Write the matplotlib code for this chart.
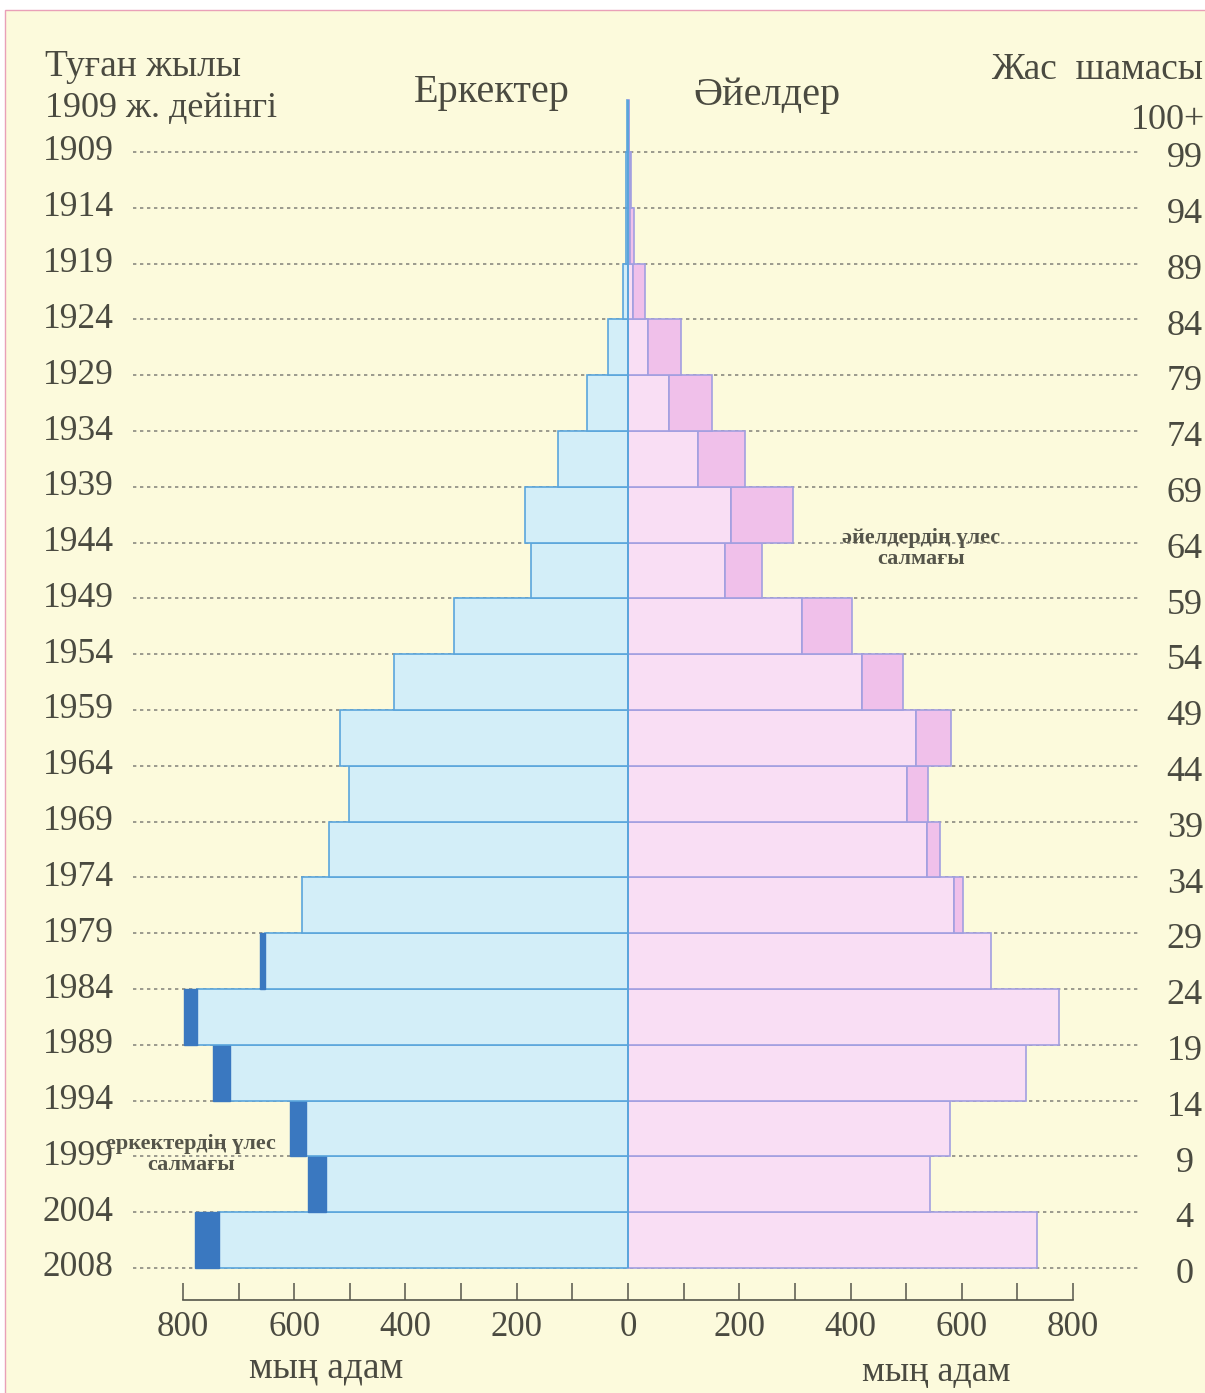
import matplotlib.pyplot as plt
from matplotlib.patches import Rectangle

# age groups from bottom (0-4) to top (100+), thousands of people
age_groups = ['0-4', '5-9', '10-14', '15-19', '20-24', '25-29', '30-34', '35-39',
              '40-44', '45-49', '50-54', '55-59', '60-64', '65-69', '70-74',
              '75-79', '80-84', '85-89', '90-94', '95-99', '100+']
male = [779, 576, 608, 746, 799, 662, 586, 538, 502, 518, 421,
        313, 175, 185, 126, 74, 36, 9, 3, 4, 1]
female = [736, 543, 579, 716, 775, 653, 602, 561, 540, 581, 495,
          403, 240, 297, 210, 151, 95, 30, 10, 6, 2]

# labels on the boundary lines, bottom to top
birth_years = ['2008', '2004', '1999', '1994', '1989', '1984', '1979', '1974',
               '1969', '1964', '1959', '1954', '1949', '1944', '1939', '1934',
               '1929', '1924', '1919', '1914', '1909']
ages = ['0', '4', '9', '14', '19', '24', '29', '34', '39', '44', '49', '54',
        '59', '64', '69', '74', '79', '84', '89', '94', '99']

x_ticks = [-800, -600, -400, -200, 0, 200, 400, 600, 800]
x_tick_labels = ['800', '600', '400', '200', '0', '200', '400', '600', '800']

plt.rcParams['font.family'] = ['Liberation Serif', 'DejaVu Serif']

bg = '#fcfadc'
text_col = '#4a4a40'
light_blue = '#d3eef8'
dark_blue = '#3a78c0'
blue_edge = '#5aa5dc'
light_pink = '#f9def4'
dark_pink = '#f0c0ea'
pink_edge = '#a29fe0'

fig = plt.figure(figsize=(12.05, 13.93), dpi=100)
fig.patch.set_facecolor('white')

ax = fig.add_axes([0, 0, 1, 1])
ax.patch.set_alpha(0)
# cream page with a thin pink frame
ax.add_patch(Rectangle((5 / 1205, -0.01), 1.0, 1.01 - 10 / 1393, transform=ax.transAxes,
                       facecolor=bg, edgecolor='#e9a0b8', linewidth=1.0, zorder=0,
                       clip_on=False))

px = 0.55625  # pixels per thousand
ax.set_xlim(-628 / px, (1205 - 628) / px)
ax.set_ylim((1268 - 1393) / 55.8, 1268 / 55.8)

# dotted guide lines
for j in range(len(birth_years)):
    ax.hlines(j, -890, 920, colors='#8a8a80', linestyles=(0, (2, 2.2)), linewidth=1.2, zorder=1)

# bars
for i in range(len(age_groups)):
    m, f = male[i], female[i]
    common = min(m, f)
    h = 1 if age_groups[i] != '100+' else 0.93
    ax.barh(i, -common, height=h, align='edge', color=light_blue,
            edgecolor=blue_edge, linewidth=1.2, zorder=3)
    if m > f:
        ax.barh(i, -(m - f), left=-common, height=h, align='edge', color=dark_blue,
                edgecolor=dark_blue, linewidth=1.0, zorder=3)
    ax.barh(i, common, height=h, align='edge', color=light_pink,
            edgecolor=pink_edge, linewidth=1.2, zorder=3)
    if f > m:
        ax.barh(i, f - m, left=common, height=h, align='edge', color=dark_pink,
                edgecolor=pink_edge, linewidth=1.2, zorder=3)

ax.vlines(0, 0, 20.93, colors=blue_edge, linewidth=1.4, zorder=4)

# side labels
for j in range(len(birth_years)):
    ax.text(-925, j, birth_years[j], ha='right', va='center', fontsize=25.5, color=text_col)
    ax.text(1001, j - 0.12, ages[j], ha='center', va='center', fontsize=26, color=text_col)

# bottom scale
for side in ['top', 'left', 'right']:
    ax.spines[side].set_visible(False)
ax.spines['bottom'].set_position(('data', -0.57))
ax.spines['bottom'].set_bounds(-800, 800)
ax.spines['bottom'].set_color('#55554a')
ax.spines['bottom'].set_linewidth(1.2)
ax.set_xticks(x_ticks)
ax.set_xticklabels(x_tick_labels)
ax.set_xticks(range(-800, 801, 100), minor=True)
ax.tick_params(axis='x', which='both', direction='in', length=12, width=1.1,
               color='#55554a', labelsize=25, labelcolor=text_col, pad=8)
ax.set_yticks([])

# titles
ax.text(-1048, 21.53, 'Туған жылы', fontsize=27, color=text_col, va='center')
ax.text(-1048, 20.78, '1909 ж. дейінгі', fontsize=26, color=text_col, va='center')
ax.text(-245, 21.06, 'Еркектер', fontsize=29, color=text_col, ha='center', va='center')
ax.text(250, 21.02, 'Әйелдер', fontsize=29, color=text_col, ha='center', va='center')
ax.text(1033, 21.47, 'Жас  шамасы', fontsize=27, color=text_col, ha='right', va='center')
ax.text(1037, 20.56, '100+', fontsize=26, color=text_col, ha='right', va='center')
ax.text(-543, -1.79, 'мың адам', fontsize=27, color=text_col, ha='center', va='center')
ax.text(554, -1.88, 'мың адам', fontsize=26, color=text_col, ha='center', va='center')

# annotations
ax.text(527, 12.89, 'әйелдердің үлес\nсалмағы', fontsize=16, color='#55554a',
        ha='center', va='center', linespacing=1.1, fontweight='bold')
ax.text(-785, 2.03, 'еркектердің үлес\nсалмағы', fontsize=16, color='#55554a',
        ha='center', va='center', linespacing=1.1, fontweight='bold')

fig.savefig('out.png', dpi=100, facecolor=fig.get_facecolor())
